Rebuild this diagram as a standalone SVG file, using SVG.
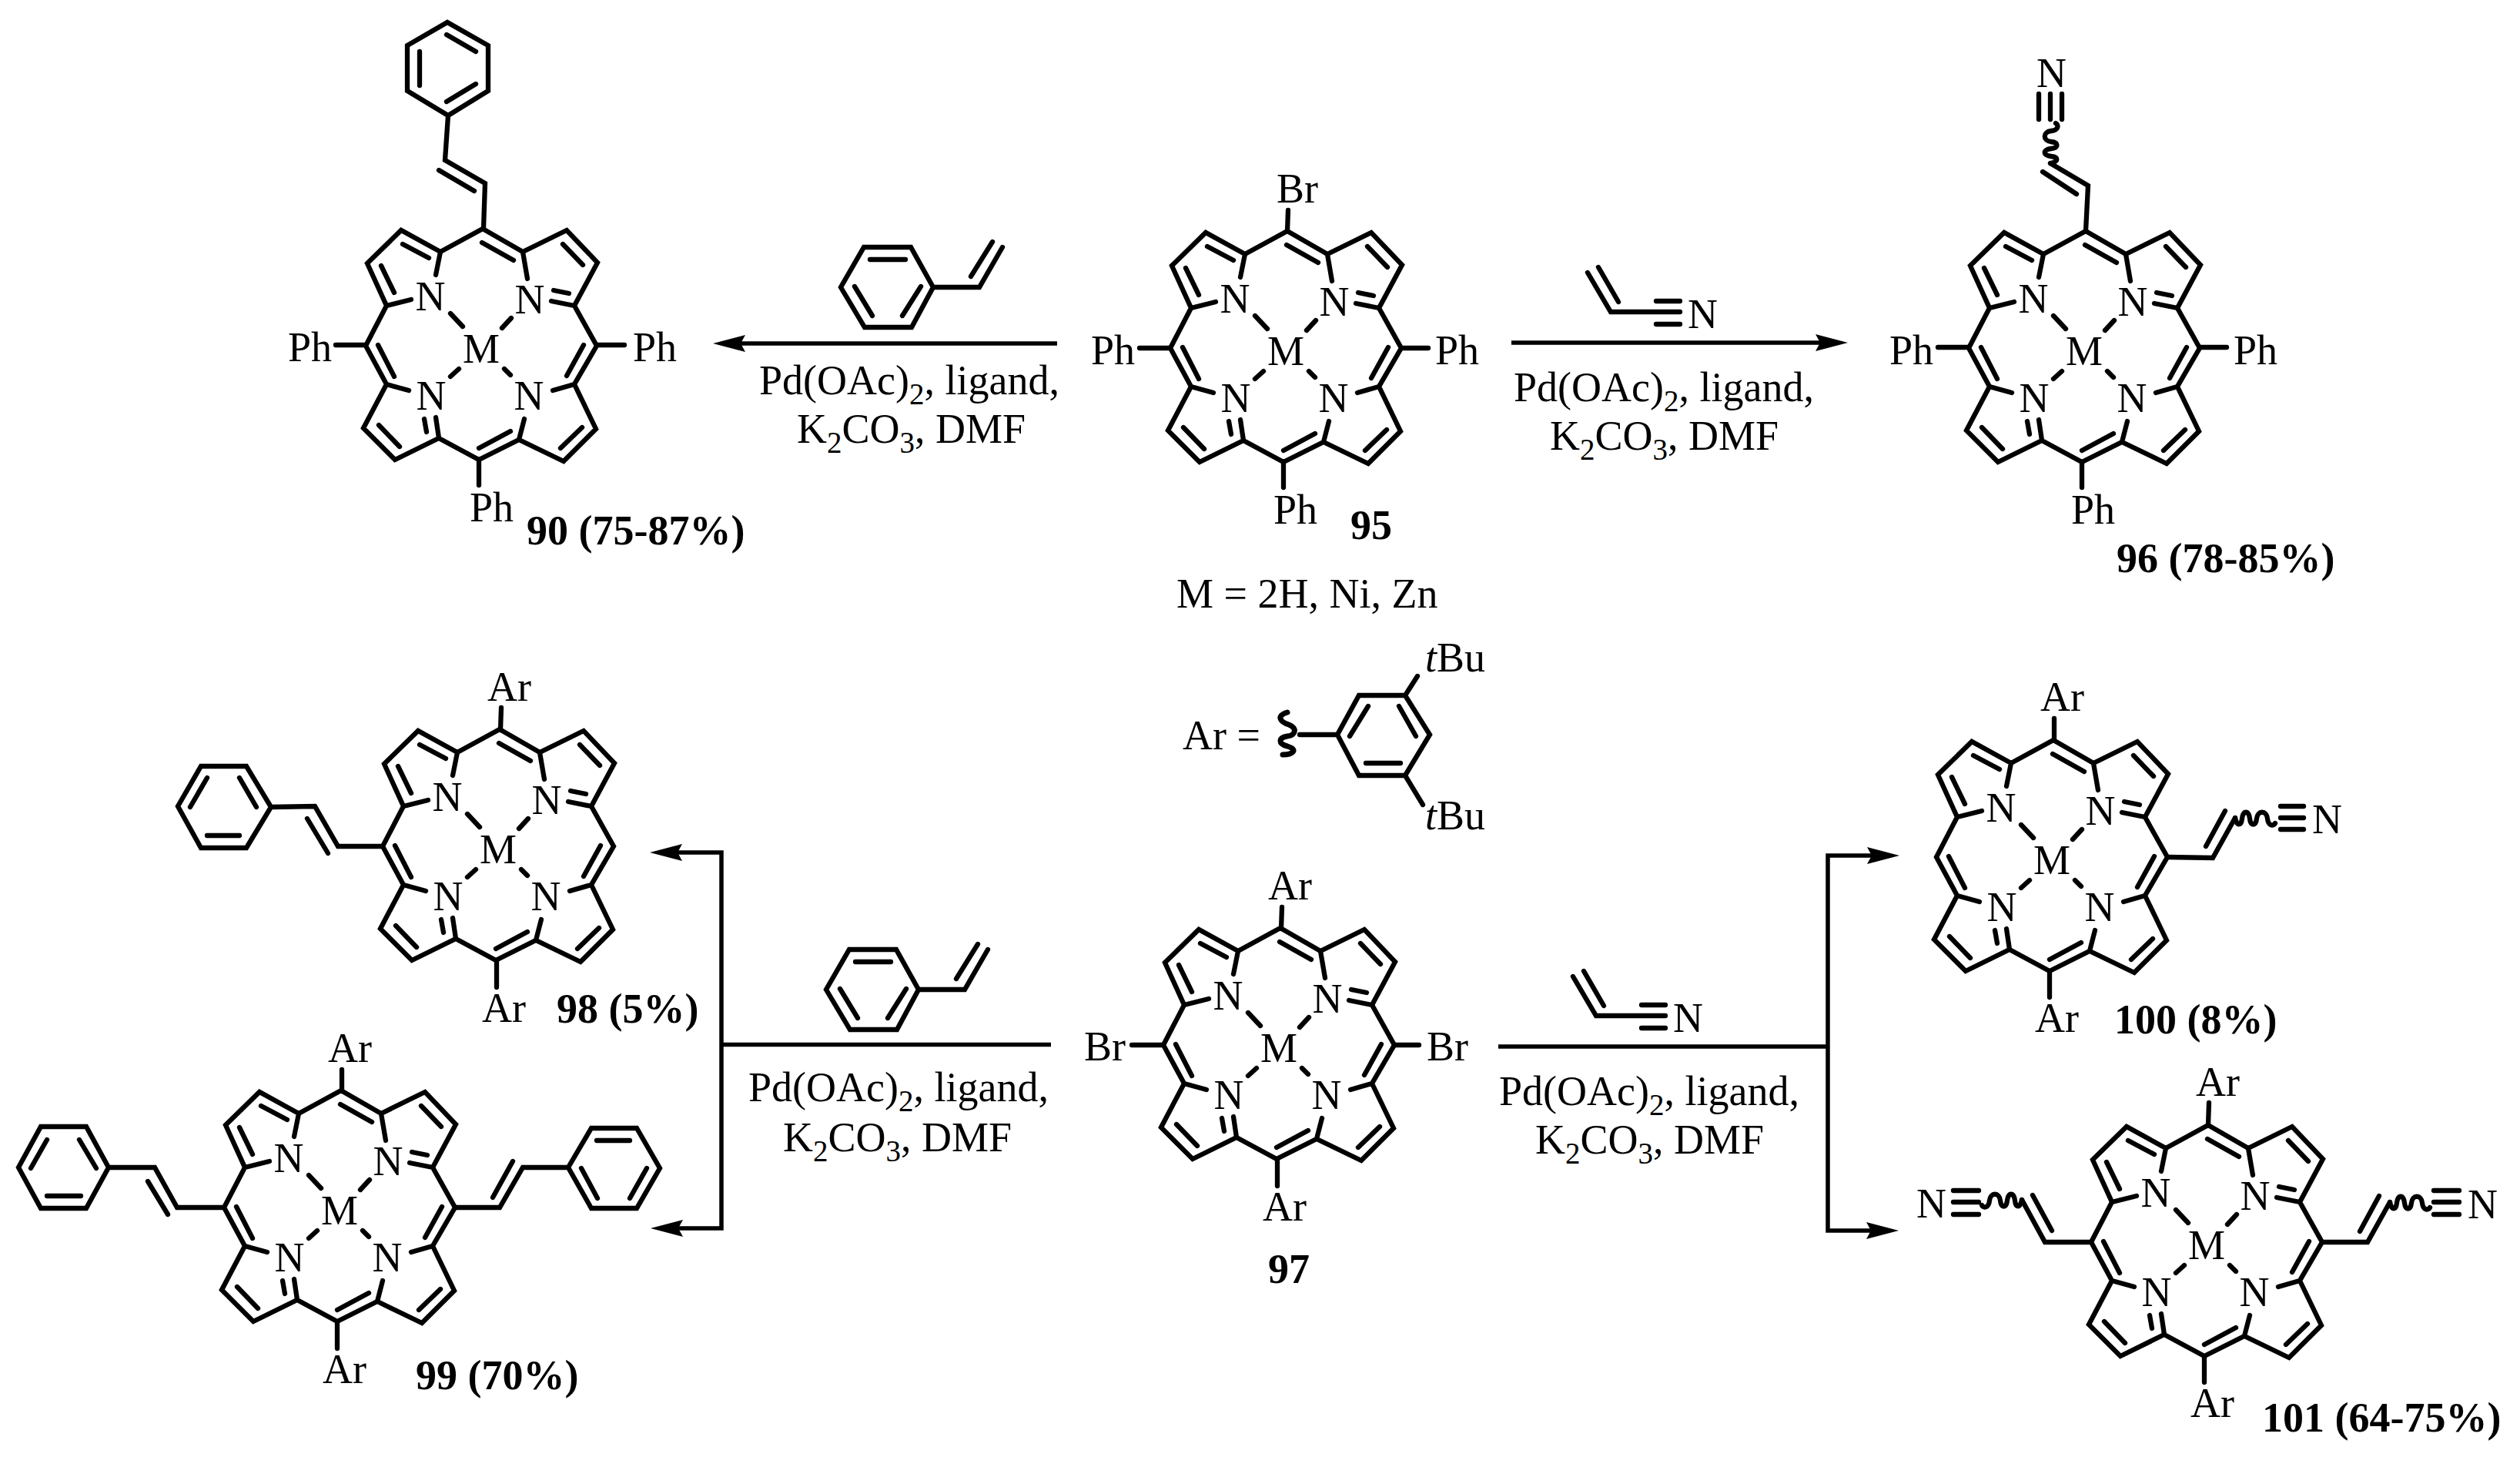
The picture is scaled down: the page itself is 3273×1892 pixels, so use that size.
<svg xmlns="http://www.w3.org/2000/svg" width="3273" height="1892" viewBox="0 0 3273 1892">
<style>
.k{fill:none;stroke:#000;stroke-width:6.3;stroke-linecap:round;stroke-linejoin:miter;stroke-miterlimit:6}
.a{fill:none;stroke:#000;stroke-width:5.5;stroke-linecap:butt;stroke-linejoin:miter}
text{font-family:"Liberation Serif","Times New Roman",serif;font-size:54px;fill:#000}
.c{text-anchor:middle}
.b{font-weight:bold}
.s{font-size:39px}
.i{font-style:italic}
</style>
<defs>
<marker id="head" markerUnits="userSpaceOnUse" markerWidth="42" markerHeight="22" viewBox="0 0 42 22" refX="6" refY="11" orient="auto-start-reverse"><path d="M42,11 L0,0 L6,11 L0,22 Z" fill="#000"/></marker>
<path id="core" class="k" d="M2,-151 L-53,-121 L-104,-149 L-148,-106 L-123,-51 L-150,1 L-123,51 L-153,108 L-112,149 L-55,121 L-3,149 L49,123 L107,151 L149,109 L121,51 L150,1 L121,-51 L151,-107 L111,-149 L54,-121 Z M-53,-121 L-59,-91 M-123,-51 L-91,-59 M54,-121 L60,-86 M121,-51 L91,-57 M94,-71 L114,-67 M-123,51 L-94,59 M-55,121 L-59,94 M-74,96 L-71,113 M49,123 L56,96 M121,51 L93,59 M-102,-131 L-68,-113 M-130,-103 L-113,-68 M1,-133 L42,-110 M106,-131 L132,-104 M-134,0 L-113,41 M133,0 L111,40 M-133,104 L-106,132 M-3,134 L38,112 M103,134 L131,107 M-40,-41 L-24,-24 M39,-35 L27,-22 M-29,31 L-40,41 M30,31 L38,39"/>
<path id="wave" class="k" d="M0,0 C2,11 8,11 9,1 C10,-10 18,-10 19,1 C20,11 27,11 28,1 C29,-10 41,-10 42,1 C43,11 50,11 52,7"/>
<path id="acn" class="k" d="M-30,-51 L0,0 L90,0 M-16,-58 L10,-13 M59,-14 L90,-14 M59,16 L90,16"/>
<path id="sty" class="k" d="M0,-52 L61,-52 L90,0 L62,52 L1,52 L-30,0 Z M90,0 L150,0 L180,-52 M8,-36 L54,-36 M-12,-1 L11,37 M74,-1 L50,37 M139,-14 L167,-59"/>
</defs>
<rect x="0" y="0" width="3273" height="1892" fill="#fff"/>
<g id="connectors">
<path class="a" d="M1373,446 L962,446" marker-end="url(#head)"/>
<path class="a" d="M1963,445 L2364,445" marker-end="url(#head)"/>
<path class="a" d="M1365,1356.5 L937,1356.5"/>
<path class="a" d="M880,1107 L937,1107 L937,1595 L881,1595" marker-start="url(#head)" marker-end="url(#head)"/>
<path class="a" d="M1946,1359 L2374,1359"/>
<path class="a" d="M2431,1111 L2374,1111 L2374,1598 L2430,1598" marker-start="url(#head)" marker-end="url(#head)"/>
</g>
<g id="reagent-top-left">
<use href="#sty" transform="translate(1122,373)"/>
<text x="986" y="512">Pd(OAc)<tspan class="s" dy="13">2</tspan><tspan dy="-13">, ligand,</tspan></text>
<text x="1035" y="575">K<tspan class="s" dy="13">2</tspan><tspan dy="-13">CO</tspan><tspan class="s" dy="13">3</tspan><tspan dy="-13">, DMF</tspan></text>
</g>
<g id="reagent-top-right">
<use href="#acn" transform="translate(2092,405)"/>
<text x="2192" y="426">N</text>
<text x="1966" y="521">Pd(OAc)<tspan class="s" dy="13">2</tspan><tspan dy="-13">, ligand,</tspan></text>
<text x="2013" y="584">K<tspan class="s" dy="13">2</tspan><tspan dy="-13">CO</tspan><tspan class="s" dy="13">3</tspan><tspan dy="-13">, DMF</tspan></text>
</g>
<g id="reagent-bottom-left">
<use href="#sty" transform="translate(1103,1285)"/>
<text x="972" y="1430">Pd(OAc)<tspan class="s" dy="13">2</tspan><tspan dy="-13">, ligand,</tspan></text>
<text x="1017" y="1495">K<tspan class="s" dy="13">2</tspan><tspan dy="-13">CO</tspan><tspan class="s" dy="13">3</tspan><tspan dy="-13">, DMF</tspan></text>
</g>
<g id="reagent-bottom-right">
<use href="#acn" transform="translate(2073,1319)"/>
<text x="2173" y="1340">N</text>
<text x="1947" y="1435">Pd(OAc)<tspan class="s" dy="13">2</tspan><tspan dy="-13">, ligand,</tspan></text>
<text x="1994" y="1498">K<tspan class="s" dy="13">2</tspan><tspan dy="-13">CO</tspan><tspan class="s" dy="13">3</tspan><tspan dy="-13">, DMF</tspan></text>
</g>
<g id="compound-90">
<g transform="translate(625,448)"><use href="#core"/>
<text class="c" x="-66" y="-45">N</text><text class="c" x="63" y="-41">N</text><text class="c" x="-65" y="84">N</text><text class="c" x="62" y="84">N</text><text class="c" x="0" y="23">M</text></g>
<path class="k" d="M628,297 L630,238 L578,208 L582,150 M570,221 L616,248 M582,150 L634,118 L634,59 L581,29 L529,59 L529,118 Z M580,45 L618,67 M545,67 L545,111 M580,132 L618,109 M475,448 L436,448 M775,448 L811,448 M622,597 L622,630"/>
<text x="374" y="469">Ph</text><text x="822" y="469">Ph</text><text x="610" y="677">Ph</text>
<text class="b" x="684" y="707">90 (75-87%)</text>
</g>
<g id="compound-95">
<g transform="translate(1670,451)"><use href="#core"/>
<text class="c" x="-66" y="-45">N</text><text class="c" x="63" y="-41">N</text><text class="c" x="-65" y="84">N</text><text class="c" x="62" y="84">N</text><text class="c" x="0" y="23">M</text></g>
<path class="k" d="M1672,300 L1673,273 M1520,452 L1480,452 M1820,452 L1855,452 M1667,600 L1667,633"/>
<text x="1658" y="263">Br</text><text x="1417" y="473">Ph</text><text x="1864" y="473">Ph</text><text x="1654" y="680">Ph</text>
<text class="b" x="1754" y="700">95</text>
<text x="1528" y="789">M = 2H, Ni, Zn</text>
</g>
<g id="compound-96">
<g transform="translate(2707,451)"><use href="#core"/>
<text class="c" x="-66" y="-45">N</text><text class="c" x="63" y="-41">N</text><text class="c" x="-65" y="84">N</text><text class="c" x="62" y="84">N</text><text class="c" x="0" y="23">M</text></g>
<path class="k" d="M2709,300 L2712,241 L2663,212 M2653,223 L2697,252 M2648,122 L2648,155 M2663,122 L2663,155 M2678,122 L2678,155 M2557,451 L2517,451 M2857,451 L2892,451 M2704,600 L2704,633"/>
<use href="#wave" transform="translate(2663,212) rotate(-90)"/>
<text x="2645" y="113">N</text><text x="2454" y="473">Ph</text><text x="2901" y="473">Ph</text><text x="2690" y="680">Ph</text>
<text class="b" x="2749" y="743">96 (78-85%)</text>
</g>
<g id="ar-definition">
<text x="1536" y="973">Ar =</text>
<path class="k" style="stroke-width:7" d="M1672,925 C1656,930 1664,938 1674,941 C1686,946 1682,955 1672,956 C1660,958 1660,966 1672,969 C1686,973 1680,980 1666,980"/>
<path class="k" d="M1688,954 L1737,954 M1737,954 L1765,903 L1825,903 L1857,954 L1825,1007 L1765,1007 Z M1777,917 L1753,956 M1817,917 L1839,956 M1774,991 L1819,991 M1825,903 L1841,878 M1825,1007 L1848,1045"/>
<text x="1851" y="872"><tspan class="i">t</tspan>Bu</text>
<text x="1851" y="1077"><tspan class="i">t</tspan>Bu</text>
</g>
<g id="compound-97">
<g transform="translate(1661,1356)"><use href="#core"/>
<text class="c" x="-66" y="-45">N</text><text class="c" x="63" y="-41">N</text><text class="c" x="-65" y="84">N</text><text class="c" x="62" y="84">N</text><text class="c" x="0" y="23">M</text></g>
<path class="k" d="M1664,1206 L1665,1178 M1659,1505 L1659,1540 M1511,1357 L1470,1357 M1811,1357 L1843,1357"/>
<text x="1647" y="1168">Ar</text><text x="1640" y="1585">Ar</text><text x="1408" y="1377">Br</text><text x="1853" y="1377">Br</text>
<text class="b" x="1647" y="1666">97</text>
</g>
<g id="compound-98">
<g transform="translate(647,1098)"><use href="#core"/>
<text class="c" x="-66" y="-45">N</text><text class="c" x="63" y="-41">N</text><text class="c" x="-65" y="84">N</text><text class="c" x="62" y="84">N</text><text class="c" x="0" y="23">M</text></g>
<path class="k" d="M650,948 L651,919 M645,1247 L645,1282 M497,1099 L439,1099 L409,1047 L352,1048 M399,1063 L426,1108 M352,1048 L320,995 L261,995 L231,1047 L261,1101 L320,1101 Z M311,1010 L333,1048 M269,1010 L247,1048 M269,1085 L311,1085"/>
<text x="633" y="910">Ar</text><text x="626" y="1327">Ar</text>
<text class="b" x="723" y="1328">98 (5%)</text>
</g>
<g id="compound-99">
<g transform="translate(441,1567)"><use href="#core"/>
<text class="c" x="-66" y="-45">N</text><text class="c" x="63" y="-41">N</text><text class="c" x="-65" y="84">N</text><text class="c" x="62" y="84">N</text><text class="c" x="0" y="23">M</text></g>
<path class="k" d="M444,1417 L444,1389 M438,1717 L438,1751 M291,1568 L230,1568 L201,1516 L141,1516 M192,1534 L218,1577 M141,1516 L112,1463 L53,1463 L24,1516 L53,1569 L112,1569 Z M103,1480 L125,1517 M61,1480 L40,1517 M61,1553 L105,1553 M591,1568 L649,1568 L679,1516 L738,1516 M666,1508 L640,1555 M738,1516 L768,1465 L827,1465 L857,1517 L827,1569 L768,1569 Z M775,1481 L818,1481 M755,1517 L776,1556 M840,1517 L818,1556"/>
<text x="426" y="1379">Ar</text><text x="419" y="1796">Ar</text>
<text class="b" x="540" y="1804">99 (70%)</text>
</g>
<g id="compound-100">
<g transform="translate(2665,1112)"><use href="#core"/>
<text class="c" x="-66" y="-45">N</text><text class="c" x="63" y="-41">N</text><text class="c" x="-65" y="84">N</text><text class="c" x="62" y="84">N</text><text class="c" x="0" y="23">M</text></g>
<path class="k" d="M2668,960 L2668,933 M2662,1263 L2662,1295 M2815,1113 L2874,1114 L2903,1062 M2890,1053 L2865,1099 M2962,1047 L2992,1047 M2962,1062 L2992,1062 M2962,1077 L2992,1077"/>
<use href="#wave" transform="translate(2903,1062)"/>
<text x="2650" y="923">Ar</text><text x="2643" y="1340">Ar</text><text x="3003" y="1082">N</text>
<text class="b" x="2746" y="1342">100 (8%)</text>
</g>
<g id="compound-101">
<g transform="translate(2866,1612)"><use href="#core"/>
<text class="c" x="-66" y="-45">N</text><text class="c" x="63" y="-41">N</text><text class="c" x="-65" y="84">N</text><text class="c" x="62" y="84">N</text><text class="c" x="0" y="23">M</text></g>
<path class="k" d="M2868,1461 L2869,1432 M2863,1762 L2863,1795 M3016,1613 L3075,1613 L3104,1561 M3090,1553 L3065,1599 M3161,1546 L3194,1546 M3161,1561 L3194,1561 M3161,1577 L3194,1577 M2716,1613 L2656,1613 L2626,1558 M2640,1552 L2665,1598 M2537,1546 L2570,1546 M2537,1561 L2570,1561 M2537,1577 L2570,1577"/>
<use href="#wave" transform="translate(3104,1561)"/>
<use href="#wave" transform="translate(2626,1558) scale(-1,1)"/>
<text x="2852" y="1423">Ar</text><text x="2845" y="1840">Ar</text><text x="3205" y="1582">N</text><text x="2489" y="1581">N</text>
<text class="b" x="2938" y="1859">101 (64-75%)</text>
</g>
</svg>
